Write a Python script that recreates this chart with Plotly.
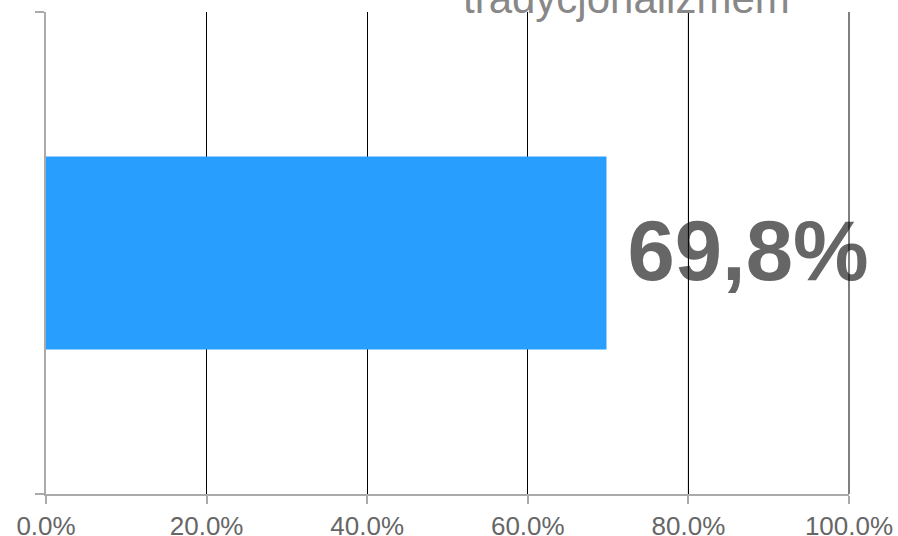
import plotly.graph_objects as go

categories = ["tradycjonalizmem"]
values = [0.698]
tick_vals = [0, 0.2, 0.4, 0.6, 0.8, 1.0]
title_text = "tradycjonalizmem"

FONT = "Arial, 'Liberation Sans', sans-serif"
bar_color = "#289eff"
label_color = "#666666"

X_RANGE = [0, 1]
PLOT_H = 536 - 12 - 42
label_drop = 6 / PLOT_H  # nudge the value label down so its digits centre on the bar

fig = go.Figure()
fig.add_trace(go.Bar(
    x=values, y=categories, orientation="h", width=0.4,
    marker=dict(color=bar_color, line=dict(width=0)),
    hoverinfo="skip",
))
fig.add_trace(go.Scatter(
    x=values, y=categories, mode="markers+text", yaxis="y2",
    marker=dict(size=32, opacity=0),
    text=[f"{v*100:.1f}%".replace(".", ",") for v in values],
    textposition="middle right",
    textfont=dict(family=FONT, size=85, color=label_color, weight="bold"),
    hoverinfo="skip", cliponaxis=False,
))

# gridlines drawn over the value label (as in the reference); paper-referenced so
# the edge line at 100% is not half-clipped by the plot area
for t in tick_vals:
    if t > max(values):
        px = (t - X_RANGE[0]) / (X_RANGE[1] - X_RANGE[0])
        fig.add_shape(type="line", xref="paper", yref="paper", x0=px, x1=px, y0=0, y1=1,
                      line=dict(color="black", width=1), layer="above")

fig.add_annotation(
    text=title_text, xref="paper", yref="paper", x=0.7235, y=1,
    xanchor="center", yanchor="bottom", yshift=-12, showarrow=False,
    font=dict(family=FONT, size=42, color="#888888"),
)

fig.update_layout(
    width=898, height=536,
    margin=dict(l=46, r=49, t=12, b=42, autoexpand=False),
    paper_bgcolor="white", plot_bgcolor="white",
    showlegend=False,
    xaxis=dict(
        range=X_RANGE, tickvals=tick_vals, tickformat=".1%",
        showgrid=True, gridcolor="black", gridwidth=1,
        showline=True, linecolor="#aaaaaa", linewidth=2,
        ticks="outside", ticklen=8, tickcolor="#aaaaaa", tickwidth=2,
        tickfont=dict(family=FONT, size=26, color=label_color),
        zeroline=False, fixedrange=True, automargin=False,
    ),
    yaxis=dict(
        type="category", range=[-0.5, 0.5], tickson="boundaries",
        showticklabels=False, showgrid=False,
        showline=True, linecolor="#aaaaaa", linewidth=2,
        ticks="outside", ticklen=9, tickcolor="#aaaaaa", tickwidth=2,
        zeroline=False, fixedrange=True, automargin=False,
    ),
    yaxis2=dict(
        type="category", overlaying="y", range=[-0.5 + label_drop, 0.5 + label_drop],
        visible=False, showgrid=False, zeroline=False, fixedrange=True,
    ),
)

fig.write_html("out.html", config={"displayModeBar": False},
               post_script="document.body.style.margin='0';")
